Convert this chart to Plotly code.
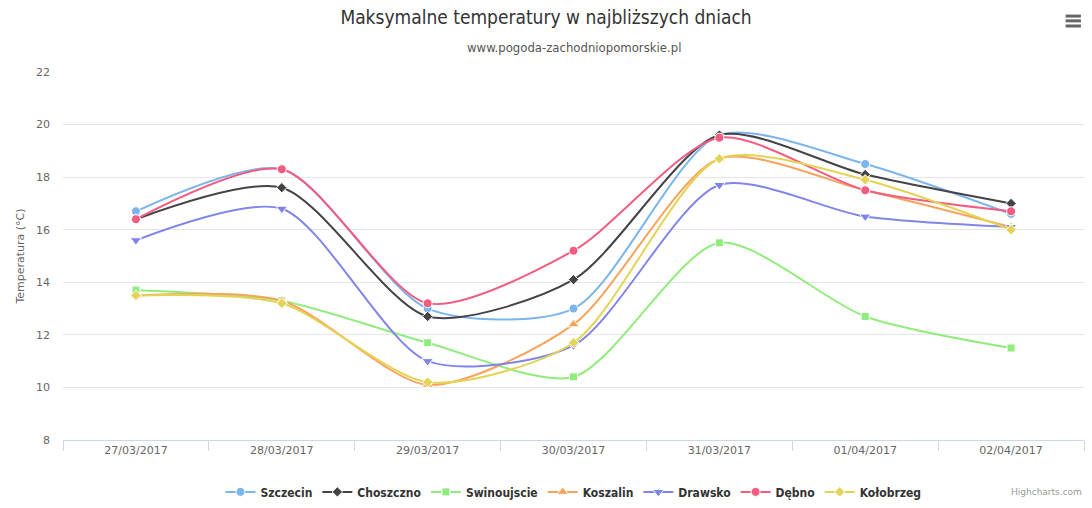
import plotly.graph_objects as go

days = ["27/03/2017", "28/03/2017", "29/03/2017", "30/03/2017",
        "31/03/2017", "01/04/2017", "02/04/2017"]

szczecin = [16.7, 18.3, 13.0, 13.0, 19.6, 18.5, 16.6]
choszczno = [16.4, 17.6, 12.7, 14.1, 19.6, 18.1, 17.0]
swinoujscie = [13.7, 13.3, 11.7, 10.4, 15.5, 12.7, 11.5]
koszalin = [13.5, 13.3, 10.1, 12.4, 18.7, 17.5, 16.1]
drawsko = [15.6, 16.8, 11.0, 11.6, 17.7, 16.5, 16.1]
debno = [16.4, 18.3, 13.2, 15.2, 19.5, 17.5, 16.7]
kolobrzeg = [13.5, 13.2, 10.2, 11.7, 18.7, 17.9, 16.0]

series = [
    ("Szczecin", szczecin, "#7cb5ec", "circle"),
    ("Choszczno", choszczno, "#434348", "diamond"),
    ("Swinoujscie", swinoujscie, "#90ed7d", "square"),
    ("Koszalin", koszalin, "#f7a35c", "triangle-up"),
    ("Drawsko", drawsko, "#8085e9", "triangle-down"),
    ("Dębno", debno, "#f15c80", "circle"),
    ("Kołobrzeg", kolobrzeg, "#e4d354", "diamond"),
]
sizes = {"circle": 9, "diamond": 8, "square": 8, "triangle-up": 10, "triangle-down": 10}

fig = go.Figure()

for name, values, color, symbol in series:
    fig.add_trace(go.Scatter(
        x=days, y=values, name=name, mode="lines+markers",
        line=dict(color=color, width=2, shape="spline", smoothing=0.75),
        marker=dict(symbol=symbol, size=sizes[symbol], color=color,
                    line=dict(color="white", width=1)),
    ))

fig.update_layout(
    width=1092, height=508,
    margin=dict(l=63, r=8, t=72, b=68, autoexpand=False),
    paper_bgcolor="white", plot_bgcolor="white",
    font=dict(family="Liberation Sans Narrow, DejaVu Sans Condensed, sans-serif", color="#666666"),
    title=dict(text="Maksymalne temperatury w najbliższych dniach",
               x=0.5, xanchor="center", y=0.965, yanchor="middle",
               font=dict(size=19, color="#333333")),
    showlegend=True,
    legend=dict(orientation="h", x=0.5, xanchor="center", y=-0.141, yanchor="middle",
                font=dict(size=12, color="#333333", weight="bold",
                          family="Liberation Sans Narrow, DejaVu Sans Condensed, sans-serif"),
                itemwidth=30, traceorder="normal"),
    hovermode="x",
)

fig.update_xaxes(
    type="category", range=[-0.5, 6.5], showgrid=False, showline=True,
    linecolor="#ccd6eb", linewidth=1,
    ticks="outside", tickson="boundaries", ticklen=10, tickcolor="#ccd6eb",
    tickfont=dict(size=11, color="#666666", family="DejaVu Sans, sans-serif"),
    zeroline=False,
)
fig.update_yaxes(
    range=[8, 22], dtick=2, showgrid=True, gridcolor="#e6e6e6", zeroline=False,
    showline=False, ticks="", ticklabelstandoff=12,
    tickfont=dict(size=11, color="#666666", family="DejaVu Sans, sans-serif"),
    title=dict(text="Temperatura (°C)", standoff=9,
               font=dict(size=11, color="#666666", family="DejaVu Sans, sans-serif")),
)

fig.add_annotation(text="www.pogoda-zachodniopomorskie.pl", xref="paper", yref="paper",
                   x=0.5, y=1.0, showarrow=False, xanchor="center", yanchor="middle",
                   yshift=25, font=dict(size=13, color="#555555"))
fig.add_annotation(text="Highcharts.com", xref="paper", yref="paper",
                   x=1, y=0, yshift=-52, xanchor="right", yanchor="middle", showarrow=False,
                   font=dict(size=9, color="#999999", family="DejaVu Sans, sans-serif"))

# menu icon (three bars)
for yy in (1.152, 1.139, 1.125):
    fig.add_shape(type="line", xref="paper", yref="paper", layer="above",
                  x0=0.982, x1=0.997, y0=yy, y1=yy,
                  line=dict(color="#666666", width=3))

fig.write_html("out.html", config={"displayModeBar": False},
               post_script="document.body.style.margin='0';")
